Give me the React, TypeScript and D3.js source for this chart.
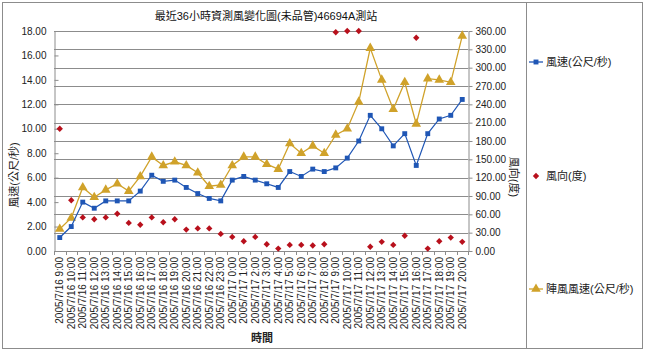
import React, { useEffect, useRef } from "react";
import * as d3 from "d3";

const categories = [
  "2005/7/16 9:00", "2005/7/16 10:00", "2005/7/16 11:00", "2005/7/16 12:00",
  "2005/7/16 13:00", "2005/7/16 14:00", "2005/7/16 15:00", "2005/7/16 16:00",
  "2005/7/16 17:00", "2005/7/16 18:00", "2005/7/16 19:00", "2005/7/16 20:00",
  "2005/7/16 21:00", "2005/7/16 22:00", "2005/7/16 23:00", "2005/7/17 0:00",
  "2005/7/17 1:00", "2005/7/17 2:00", "2005/7/17 3:00", "2005/7/17 4:00",
  "2005/7/17 5:00", "2005/7/17 6:00", "2005/7/17 7:00", "2005/7/17 8:00",
  "2005/7/17 9:00", "2005/7/17 10:00", "2005/7/17 11:00", "2005/7/17 12:00",
  "2005/7/17 13:00", "2005/7/17 14:00", "2005/7/17 15:00", "2005/7/17 16:00",
  "2005/7/17 17:00", "2005/7/17 18:00", "2005/7/17 19:00", "2005/7/17 20:00",
];

// 風速 (m/s)
const windSpeed = [
  1.1, 2.0, 4.0, 3.5, 4.1, 4.1, 4.1, 4.9, 6.2, 5.7,
  5.8, 5.2, 4.7, 4.3, 4.1, 5.8, 6.1, 5.8, 5.5, 5.2,
  6.5, 6.1, 6.7, 6.5, 6.8, 7.6, 9.0, 11.1, 10.0, 8.6,
  9.6, 7.0, 9.6, 10.8, 11.1, 12.4,
];

// 風向 (deg)
const windDir = [
  200, 83, 55, 52, 55, 61, 46, 43, 55, 47,
  52, 35, 37, 37, 28, 23, 16, 23, 11, 4,
  10, 10, 9, 11, 358, 360, 360, 7, 15, 10,
  25, 349, 4, 16, 22, 15,
];

// 陣風風速 (m/s)
const gust = [
  1.8, 2.7, 5.2, 4.4, 5.0, 5.5, 4.9, 6.1, 7.7, 7.0,
  7.3, 7.0, 6.4, 5.3, 5.4, 7.0, 7.7, 7.7, 7.1, 6.7,
  8.8, 8.0, 8.6, 8.0, 9.5, 10.0, 12.2, 16.6, 14.0, 11.6,
  13.8, 10.4, 14.1, 14.0, 13.8, 17.6,
];

const leftTicks = [0, 2, 4, 6, 8, 10, 12, 14, 16, 18];
const rightTicks = [0, 30, 60, 90, 120, 150, 180, 210, 240, 270, 300, 330, 360];

const title = "最近36小時資測風變化圖(未品管)46694A測站";
const legendNames = ["風速(公尺/秒)", "風向(度)", "陣風風速(公尺/秒)"];

const FONT = "'Liberation Sans', 'Noto Sans CJK TC', sans-serif";
const BLUE = "#1f56b5";
const RED = "#b8101c";
const GOLD = "#d0a22a";
const GRID = "#8c8c8c";

const W = 645;
const H = 352;
const plot = { left: 54, right: 468, top: 31, bottom: 251 };

const App = () => {
  const svgRef = useRef(null);

  useEffect(() => {
    const svg = d3.select(svgRef.current);
    svg.selectAll("*").remove();

    svg.append("rect").attr("width", W).attr("height", H).attr("fill", "#fff");
    svg
      .append("rect")
      .attr("x", 2.5).attr("y", 2.5)
      .attr("width", 640).attr("height", 346)
      .attr("fill", "none").attr("stroke", "#8c8c8c");
    svg
      .append("line")
      .attr("x1", 526.5).attr("x2", 526.5)
      .attr("y1", 2.5).attr("y2", 348.5)
      .attr("stroke", "#8c8c8c");

    const x = d3.scaleBand().domain(categories).range([plot.left, plot.right]);
    const cx = (i) => x(categories[i]) + x.bandwidth() / 2;
    const yL = d3.scaleLinear().domain([0, 18]).range([plot.bottom, plot.top]);
    const yR = d3.scaleLinear().domain([0, 360]).range([plot.bottom, plot.top]);

    // gridlines (secondary axis)
    svg
      .append("g")
      .selectAll("line")
      .data(rightTicks)
      .enter()
      .append("line")
      .attr("x1", plot.left).attr("x2", plot.right)
      .attr("y1", (d) => Math.round(yR(d)) + 0.5)
      .attr("y2", (d) => Math.round(yR(d)) + 0.5)
      .attr("stroke", GRID);

    // left axis
    const gl = svg.append("g").attr("transform", `translate(${plot.left + 0.5},0)`);
    gl.call(
      d3.axisLeft(yL).tickValues(leftTicks).tickSizeInner(-4).tickSizeOuter(0)
        .tickPadding(8).tickFormat(d3.format(".2f"))
    );
    gl.select(".domain").attr("stroke", GRID);
    gl.selectAll(".tick line").attr("stroke", GRID);
    gl.selectAll("text").attr("font-family", FONT).attr("font-size", 10).attr("fill", "#222");

    // right axis
    const gr = svg.append("g").attr("transform", `translate(${plot.right + 0.5},0)`);
    gr.call(
      d3.axisRight(yR).tickValues(rightTicks).tickSizeInner(4).tickSizeOuter(0)
        .tickPadding(3).tickFormat(d3.format(".2f"))
    );
    gr.select(".domain").attr("stroke", GRID);
    gr.selectAll(".tick line").attr("stroke", GRID);
    gr.selectAll("text").attr("font-family", FONT).attr("font-size", 10).attr("fill", "#222");

    // bottom axis
    svg
      .append("line")
      .attr("x1", plot.left).attr("x2", plot.right)
      .attr("y1", plot.bottom + 0.5).attr("y2", plot.bottom + 0.5)
      .attr("stroke", GRID);
    svg
      .append("g")
      .selectAll("line")
      .data(categories.concat(["end"]))
      .enter()
      .append("line")
      .attr("x1", (d, i) => Math.round(plot.left + i * x.bandwidth()) + 0.5)
      .attr("x2", (d, i) => Math.round(plot.left + i * x.bandwidth()) + 0.5)
      .attr("y1", plot.bottom)
      .attr("y2", plot.bottom + 4)
      .attr("stroke", GRID);
    svg
      .append("g")
      .selectAll("text")
      .data(categories)
      .enter()
      .append("text")
      .attr("transform", (d, i) => `translate(${cx(i) + 3.5},${plot.bottom + 6}) rotate(-90)`)
      .attr("text-anchor", "end")
      .attr("font-family", FONT)
      .attr("font-size", 10)
      .attr("fill", "#222")
      .text((d) => d);

    // titles
    svg
      .append("text")
      .attr("x", 266).attr("y", 20)
      .attr("text-anchor", "middle")
      .attr("font-family", FONT).attr("font-size", 11).attr("fill", "#111")
      .text(title);
    svg
      .append("text")
      .attr("transform", "translate(18,175) rotate(-90)")
      .attr("text-anchor", "middle")
      .attr("font-family", FONT).attr("font-size", 11).attr("fill", "#222")
      .text("風速(公尺/秒)");
    svg
      .append("text")
      .attr("transform", "translate(510,177) rotate(90)")
      .attr("text-anchor", "middle")
      .attr("font-family", FONT).attr("font-size", 11).attr("fill", "#222")
      .text("風向(度)");
    svg
      .append("text")
      .attr("x", 262).attr("y", 342)
      .attr("text-anchor", "middle")
      .attr("font-family", FONT).attr("font-size", 11).attr("font-weight", "bold")
      .attr("fill", "#222")
      .text("時間");

    const square = d3.symbol().type(d3.symbolSquare).size(24);
    const diamond = d3.symbol().type(d3.symbolSquare).size(20);
    const triangle = d3.symbol().type(d3.symbolTriangle).size(40);

    // gust line
    svg
      .append("path")
      .datum(gust)
      .attr("fill", "none")
      .attr("stroke", GOLD)
      .attr("stroke-width", 1.3)
      .attr("d", d3.line().x((d, i) => cx(i)).y((d) => yL(d)));
    svg
      .append("g")
      .selectAll("path")
      .data(gust)
      .enter()
      .append("path")
      .attr("d", triangle())
      .attr("transform", (d, i) => `translate(${cx(i)},${yL(d)})`)
      .attr("fill", GOLD);

    // wind speed line
    svg
      .append("path")
      .datum(windSpeed)
      .attr("fill", "none")
      .attr("stroke", BLUE)
      .attr("stroke-width", 1.2)
      .attr("d", d3.line().x((d, i) => cx(i)).y((d) => yL(d)));
    svg
      .append("g")
      .selectAll("path")
      .data(windSpeed)
      .enter()
      .append("path")
      .attr("d", square())
      .attr("transform", (d, i) => `translate(${cx(i)},${yL(d)})`)
      .attr("fill", BLUE);

    // wind direction points
    svg
      .append("g")
      .selectAll("path")
      .data(windDir)
      .enter()
      .append("path")
      .attr("d", diamond())
      .attr("transform", (d, i) => `translate(${cx(i)},${yR(d)}) rotate(45)`)
      .attr("fill", RED);

    // legend
    const legendY = [62, 176, 289];
    const legendColor = [BLUE, RED, GOLD];
    const legendSym = [square, diamond, triangle];
    legendNames.forEach((name, i) => {
      const g = svg.append("g").attr("transform", `translate(536,${legendY[i]})`);
      if (i !== 1) {
        g.append("line")
          .attr("x1", -7).attr("x2", 7)
          .attr("stroke", legendColor[i]).attr("stroke-width", 1.3);
      }
      g.append("path")
        .attr("d", legendSym[i]())
        .attr("transform", i === 1 ? "rotate(45)" : null)
        .attr("fill", legendColor[i]);
      g.append("text")
        .attr("x", 10).attr("y", 4)
        .attr("font-family", FONT).attr("font-size", 11).attr("fill", "#222")
        .text(name);
    });
  }, []);

  return (
    <svg
      ref={svgRef}
      width={W}
      height={H}
      style={{ position: "absolute", left: 0, top: 0 }}
    ></svg>
  );
};

export default App;
